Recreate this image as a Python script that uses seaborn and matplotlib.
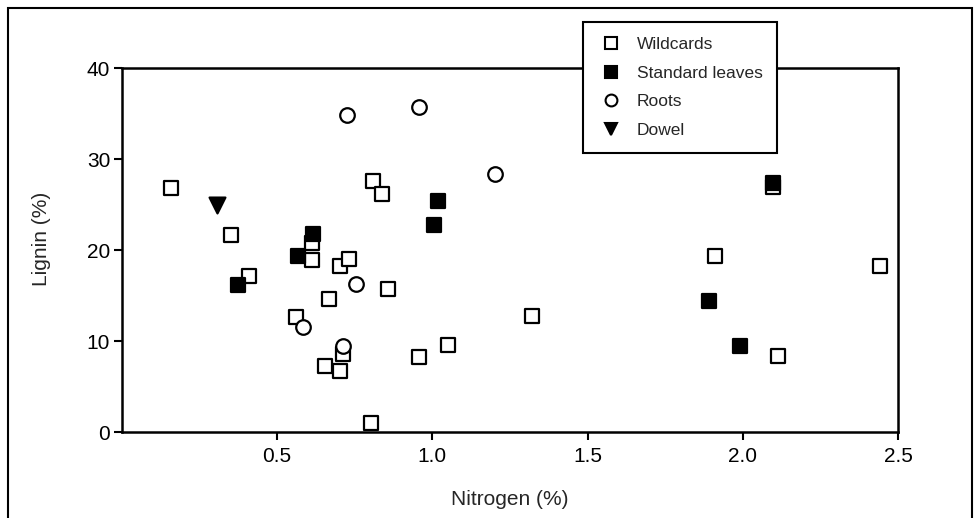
import matplotlib
matplotlib.use("Agg")
import matplotlib.pyplot as plt
from matplotlib.lines import Line2D
from matplotlib.patches import Rectangle
import pandas as pd
import seaborn as sns

# values
wild_n = [0.157, 0.351, 0.408, 0.613, 0.612, 0.702, 0.732, 0.856, 0.666, 0.560,
          0.713, 0.655, 0.702, 0.802, 0.956, 1.051, 0.810, 0.837, 1.322, 1.910,
          2.114, 2.098, 2.442]
wild_l = [26.8, 21.6, 17.1, 20.8, 18.9, 18.2, 19.0, 15.7, 14.6, 12.6,
          8.6, 7.3, 6.7, 0.95, 8.2, 9.6, 27.6, 26.2, 12.7, 19.3,
          8.3, 26.9, 18.2]
std_n = [0.373, 0.568, 0.616, 1.019, 1.005, 1.892, 1.991, 2.098]
std_l = [16.2, 19.3, 21.8, 25.4, 22.7, 14.4, 9.5, 27.4]
root_n = [0.754, 0.584, 0.713, 0.726, 0.957, 1.202]
root_l = [16.3, 11.5, 9.4, 34.8, 35.7, 28.4]
dowel_n = [0.307]
dowel_l = [25.0]

groups = ["Wildcards", "Standard leaves", "Roots", "Dowel"]
markers = {"Wildcards": "s", "Standard leaves": "s", "Roots": "o", "Dowel": "v"}
fills = {"Wildcards": "white", "Standard leaves": "black", "Roots": "white", "Dowel": "black"}

df = pd.concat([
    pd.DataFrame({"N": wild_n, "L": wild_l, "group": "Wildcards"}),
    pd.DataFrame({"N": std_n, "L": std_l, "group": "Standard leaves"}),
    pd.DataFrame({"N": root_n, "L": root_l, "group": "Roots"}),
    pd.DataFrame({"N": dowel_n, "L": dowel_l, "group": "Dowel"}),
], ignore_index=True)

sns.set_style("ticks")
plt.rcParams["font.family"] = ["Liberation Sans", "DejaVu Sans"]

fig = plt.figure(figsize=(9.75, 5.18), dpi=100)
ax = fig.add_axes([0.1251, 0.166, 0.7959, 0.7027])

# draw groups in order so that filled squares / circles sit on top
for g in groups:
    sub = df[df["group"] == g]
    sns.scatterplot(data=sub, x="N", y="L", ax=ax, marker=markers[g],
                    color=fills[g], edgecolor="black", linewidth=1.6,
                    s=110 if markers[g] != "v" else 130, legend=False, zorder=3)

ax.set_xlim(0, 2.5)
ax.set_ylim(0, 40)
ax.set_xticks([0.5, 1.0, 1.5, 2.0, 2.5])
ax.set_xticklabels(["0.5", "1.0", "1.5", "2.0", "2.5"])
ax.set_yticks([0, 10, 20, 30, 40])
ax.tick_params(axis="both", direction="out", length=5.5, width=1.5,
               labelsize=15, colors="black")
ax.tick_params(axis="x", pad=5)
ax.tick_params(axis="y", pad=3)
for sp in ax.spines.values():
    sp.set_linewidth(1.8)
    sp.set_color("black")
    sp.set_visible(True)
ax.set_xlabel("Nitrogen (%)", fontsize=15)
ax.set_ylabel("Lignin (%)", fontsize=15)
ax.xaxis.set_label_coords(0.5, -0.16)
ax.yaxis.set_label_coords(-0.092, 0.53)

handles = [Line2D([], [], linestyle="none", marker=markers[g],
                  markerfacecolor=fills[g], markeredgecolor="black",
                  markeredgewidth=1.5, markersize=8.5) for g in groups]
leg = ax.legend(handles, groups, loc="upper left",
                bbox_to_anchor=(583 / 975, 1 - 22 / 518),
                bbox_transform=fig.transFigure, fontsize=12.5,
                frameon=True, fancybox=False, framealpha=1,
                edgecolor="black", handletextpad=0.75, labelspacing=0.78,
                borderpad=0.85, handlelength=1.5, borderaxespad=0)
leg.get_frame().set_linewidth(1.5)
leg.set_zorder(5)

# outer frame around the whole figure
fig.patches.append(Rectangle((8 / 975, -0.05), 964 / 975, 1.05 - 8 / 518,
                             transform=fig.transFigure, fill=False,
                             edgecolor="black", linewidth=1.5))

fig.savefig("out.png", dpi=100)
